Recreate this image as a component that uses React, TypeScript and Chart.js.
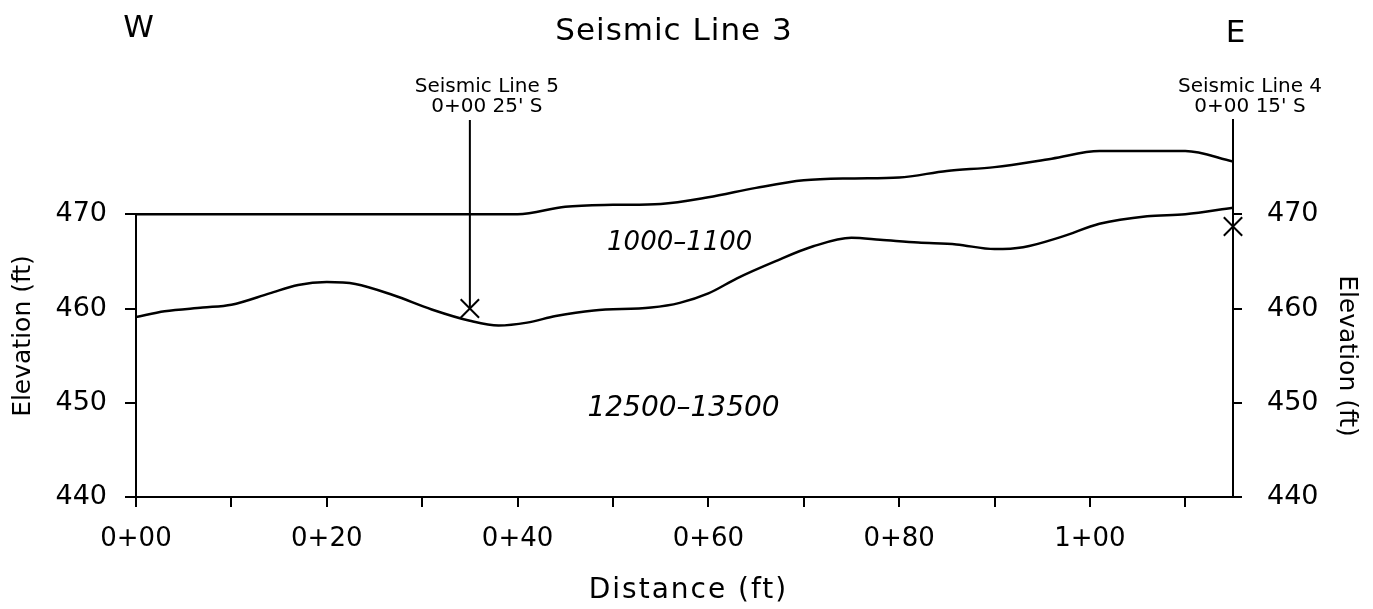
import React, { useEffect, useRef } from "react";
import { Chart, registerables } from "chart.js";

Chart.register(...registerables);

// Distance along the line (ft) and elevations (ft)
const TOP_X = [0, 40, 45, 50, 55, 60, 65, 70, 75, 80, 85, 90, 96, 101, 110, 115];
const TOP_Y = [470, 470, 470.8, 471.0, 471.1, 471.8, 472.8, 473.6, 473.8, 473.9, 474.6, 475.0, 475.9, 476.7, 476.7, 475.6];

const BASE_X = [0, 3, 7, 10, 14, 17, 20, 23, 27, 31, 35, 38, 41, 44, 48, 54, 57, 60, 63, 67, 71, 75, 78, 82, 86, 90, 93, 97, 101, 106, 110, 115];
const BASE_Y = [459.1, 459.7, 460.1, 460.4, 461.6, 462.5, 462.8, 462.6, 461.4, 459.9, 458.7, 458.2, 458.5, 459.2, 459.8, 460.1, 460.6, 461.6, 463.2, 465.0, 466.6, 467.5, 467.3, 467.0, 466.8, 466.3, 466.5, 467.6, 469.0, 469.8, 470.0, 470.7];

const CROSS_X = [35, 115];
const CROSS_Y = [460, 468.7];
const CROSS_LABEL_1 = ["Seismic Line 5", "Seismic Line 4"];
const CROSS_LABEL_2 = ["0+00 25' S", "0+00 15' S"];

const ZONE_LABELS = ["1000\u20131100", "12500\u201313500"];
const ZONE_X = [57, 57.4];
const ZONE_Y = [466.9, 449.4];

const X_MIN = 0;
const X_MAX = 115;
const Y_MIN = 440;
const Y_MAX = 480;
const Y_LABEL_MAX = 470;

const TITLE = "Seismic Line 3";
const X_TITLE = "Distance (ft)";
const Y_TITLE = "Elevation (ft)";

const FONT = '"DejaVu Sans"';

const fmtStation = (v: number) =>
  v % 20 === 0 ? `${Math.floor(v / 100)}+${String(v % 100).padStart(2, "0")}` : "";

const annotations = {
  id: "annotations",
  afterDraw(chart: any) {
    const { ctx, chartArea, scales } = chart;
    const x = scales.x;
    const y = scales.y;
    ctx.save();
    ctx.strokeStyle = "#000";
    ctx.fillStyle = "#000";
    ctx.lineWidth = 2;
    // left axis line only spans the labelled range
    ctx.beginPath();
    ctx.moveTo(chartArea.left, y.getPixelForValue(Y_MIN) + 1);
    ctx.lineTo(chartArea.left, y.getPixelForValue(Y_LABEL_MAX));
    ctx.stroke();

    ctx.textAlign = "center";
    ctx.textBaseline = "alphabetic";
    (ctx as any).letterSpacing = "1px";
    ctx.font = `31px ${FONT}`;
    ctx.fillText(TITLE, 674, 40);
    ctx.fillText("W", x.getPixelForValue(X_MIN) + 3, 37);
    ctx.fillText("E", x.getPixelForValue(X_MAX) + 3, 42);

    (ctx as any).letterSpacing = "0px";
    ctx.font = `20px ${FONT}`;
    for (let i = 0; i < CROSS_X.length; i++) {
      const px = x.getPixelForValue(CROSS_X[i]) + 17;
      ctx.fillText(CROSS_LABEL_1[i], px, chartArea.top - 28);
      ctx.fillText(CROSS_LABEL_2[i], px, chartArea.top - 8);
    }

    ctx.textBaseline = "middle";
    ctx.font = `italic 26px ${FONT}`;
    ctx.fillText(ZONE_LABELS[0], x.getPixelForValue(ZONE_X[0]), y.getPixelForValue(ZONE_Y[0]));
    ctx.font = `italic 28px ${FONT}`;
    ctx.fillText(ZONE_LABELS[1], x.getPixelForValue(ZONE_X[1]), y.getPixelForValue(ZONE_Y[1]));

    // axis titles
    ctx.textBaseline = "alphabetic";
    (ctx as any).letterSpacing = "2px";
    ctx.font = `28px ${FONT}`;
    ctx.fillText(X_TITLE, (chartArea.left + chartArea.right) / 2 + 4, 598);

    (ctx as any).letterSpacing = "0px";
    ctx.textBaseline = "middle";
    ctx.font = `25px ${FONT}`;
    ctx.save();
    ctx.translate(23, 336);
    ctx.rotate(-Math.PI / 2);
    ctx.fillText(Y_TITLE, 0, 0);
    ctx.restore();
    ctx.save();
    ctx.translate(1346, 356);
    ctx.rotate(Math.PI / 2);
    ctx.fillText(Y_TITLE, 0, 0);
    ctx.restore();

    ctx.restore();
  },
};

export default function App() {
  const ref = useRef<HTMLCanvasElement | null>(null);

  useEffect(() => {
    if (!ref.current) return;
    const pts = (xs: number[], ys: number[]) => xs.map((v, i) => ({ x: v, y: ys[i] }));
    const hideTop = (c: any) => (c.tick && c.tick.value > Y_LABEL_MAX ? "rgba(0,0,0,0)" : "#000");
    const chart = new Chart(ref.current, {
      type: "line",
      data: {
        datasets: [
          {
            label: "Top",
            data: pts(TOP_X, TOP_Y),
            borderColor: "#000",
            borderWidth: 2.5,
            pointRadius: 0,
            cubicInterpolationMode: "monotone",
            fill: false,
          },
          {
            label: "Velocity boundary",
            data: pts(BASE_X, BASE_Y),
            borderColor: "#000",
            borderWidth: 2.5,
            pointRadius: 0,
            cubicInterpolationMode: "monotone",
            fill: false,
          },
          {
            label: "Seismic Line 5",
            data: [
              { x: CROSS_X[0], y: Y_MAX },
              { x: CROSS_X[0], y: CROSS_Y[0] },
            ],
            borderColor: "#000",
            borderWidth: 2,
            pointRadius: 0,
            fill: false,
          },
          {
            label: "Crossings",
            type: "scatter",
            data: pts(CROSS_X, CROSS_Y),
            borderColor: "#000",
            backgroundColor: "#000",
            pointStyle: "crossRot",
            pointRadius: 13,
            pointBorderWidth: 2,
            clip: false,
          } as any,
        ],
      },
      options: {
        responsive: false,
        animation: false,
        layout: { padding: { top: 120, left: 0, right: 0, bottom: 0 } },
        plugins: { legend: { display: false }, tooltip: { enabled: false }, title: { display: false } },
        scales: {
          x: {
            type: "linear",
            min: X_MIN,
            max: X_MAX,
            afterFit: (s: any) => {
              s.height = 112;
            },
            border: { display: true, color: "#000", width: 2 },
            grid: { drawOnChartArea: false, drawTicks: true, tickLength: 10, color: "#000", lineWidth: 2 },
            ticks: {
              stepSize: 10,
              includeBounds: false,
              autoSkip: false,
              maxRotation: 0,
              color: "#000",
              padding: 17,
              font: { family: "DejaVu Sans", size: 26 },
              callback: (v: any) => fmtStation(Number(v)),
            },
          },
          y: {
            type: "linear",
            position: "left",
            min: Y_MIN,
            max: Y_MAX,
            afterFit: (s: any) => {
              s.width = 136;
            },
            border: { display: false },
            grid: { drawOnChartArea: false, drawTicks: true, tickLength: 11, color: hideTop, lineWidth: 2 },
            ticks: {
              stepSize: 10,
              color: "#000",
              padding: 18,
              font: { family: "DejaVu Sans", size: 27 },
              callback: (v: any) => (Number(v) > Y_LABEL_MAX ? "" : String(v)),
            },
          },
          y2: {
            type: "linear",
            position: "right",
            min: Y_MIN,
            max: Y_MAX,
            afterFit: (s: any) => {
              s.width = 140;
            },
            border: { display: true, color: "#000", width: 2 },
            grid: { drawOnChartArea: false, drawTicks: true, tickLength: 9, color: hideTop, lineWidth: 2 },
            ticks: {
              stepSize: 10,
              color: "#000",
              padding: 25,
              font: { family: "DejaVu Sans", size: 27 },
              callback: (v: any) => (Number(v) > Y_LABEL_MAX ? "" : String(v)),
            },
          },
        },
      },
      plugins: [annotations],
    } as any);
    return () => chart.destroy();
  }, []);

  return (
    <div style={{ position: "fixed", left: 0, top: 0, width: 1373, height: 609, background: "#fff" }}>
      <canvas ref={ref} width={1373} height={609} />
    </div>
  );
}
